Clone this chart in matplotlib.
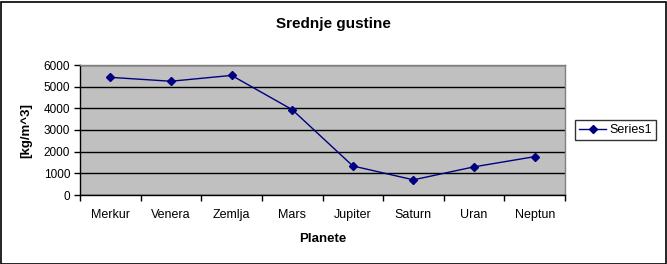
import matplotlib
matplotlib.use("Agg")
import matplotlib.pyplot as plt
from matplotlib.patches import Rectangle
import numpy as np

planets = ["Merkur", "Venera", "Zemlja", "Mars", "Jupiter", "Saturn", "Uran", "Neptun"]
density = [5430, 5250, 5520, 3940, 1340, 700, 1300, 1770]
yticks = [0, 1000, 2000, 3000, 4000, 5000, 6000]

plt.rcParams['font.family'] = ['Liberation Sans', 'DejaVu Sans']

W, H = 667, 264
fig = plt.figure(figsize=(W / 100, H / 100), dpi=100)
fig.patch.set_facecolor('white')
ax = fig.add_axes([80 / W, 1 - 195 / H, (565 - 80) / W, (195 - 65) / H])
ax.set_facecolor('#C0C0C0')

x = np.arange(len(planets))
ax.plot(x, density, color='#000080', linewidth=1, marker='D', markersize=3.6,
        markerfacecolor='#000080', markeredgecolor='#000080', label='Series1', zorder=3)

ax.set_xlim(-0.5, len(planets) - 0.5)
ax.set_ylim(0, 6000)
ax.set_yticks(yticks)
ax.set_yticklabels([str(v) for v in yticks], fontsize=8.5)
ax.yaxis.grid(True, color='black', linewidth=1)
ax.set_axisbelow(True)

ax.set_xticks(np.arange(-0.5, len(planets)), minor=False)
ax.set_xticklabels([])
ax.set_xticks(x, minor=True)
ax.set_xticklabels(planets, minor=True, fontsize=9)
ax.tick_params(axis='x', which='major', direction='out', length=4, width=1, color='black')
ax.tick_params(axis='x', which='minor', length=0, pad=10)
ax.tick_params(axis='y', direction='out', length=4, width=1, color='black', pad=3)

for s in ['top', 'right']:
    ax.spines[s].set_color('#808080')
    ax.spines[s].set_linewidth(1)
for s in ['left', 'bottom']:
    ax.spines[s].set_color('black')
    ax.spines[s].set_linewidth(1)

ax.set_xlabel('Planete', fontsize=9.5, fontweight='bold', labelpad=9)
ax.set_ylabel('[kg/m^3]', fontsize=9.5, fontweight='bold', labelpad=8)

fig.text(333 / W, 1 - 24 / H, 'Srednje gustine', fontsize=11, fontweight='bold',
         ha='center', va='center')

leg = fig.legend(loc='center left', bbox_to_anchor=(575 / W, 1 - 130 / H),
                 fontsize=9, frameon=True, fancybox=False, edgecolor='black',
                 borderpad=0.3, handlelength=2.2, handletextpad=0.25, borderaxespad=0)
leg.get_frame().set_linewidth(1)

fig.patches.append(Rectangle((0.5 / W, 0.5 / H), 1 - 2 / W, 1 - 2 / H, transform=fig.transFigure,
                             fill=False, edgecolor='black', linewidth=1.2))

fig.savefig('out.png', dpi=100)
